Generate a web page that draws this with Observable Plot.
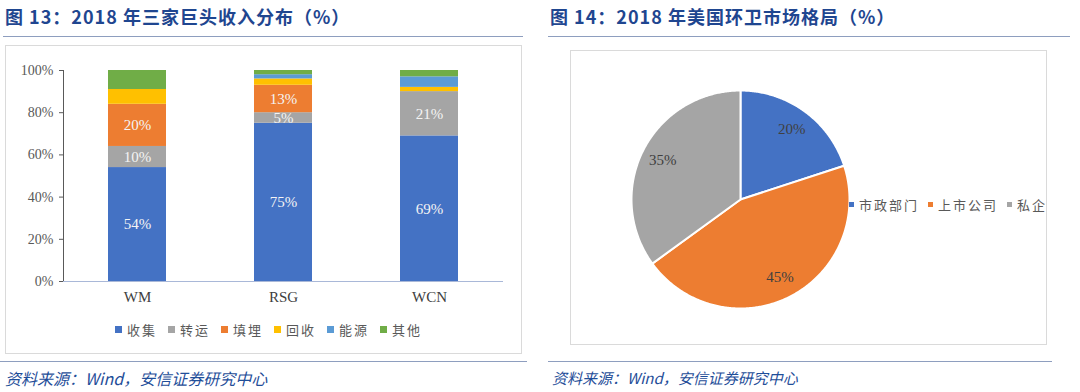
<!DOCTYPE html>
<html><head><meta charset="utf-8">
<script src="https://cdn.jsdelivr.net/npm/d3@7"></script>
<script src="https://cdn.jsdelivr.net/npm/@observablehq/plot@0.6"></script>
<style>
body{margin:0;background:#fff;width:1080px;height:392px;position:relative;overflow:hidden;font-family:"Noto Sans CJK SC",sans-serif;}
.abs{position:absolute;}
.title{font-size:18px;font-weight:bold;color:#1F4690;white-space:nowrap;letter-spacing:1px;}
.rule{height:0;border-top:1.5px solid #8E9EBF;}
.box{border:1px solid #DADADA;box-sizing:border-box;}
.src{font-size:15px;font-style:italic;color:#1F4E99;white-space:nowrap;}
.legend{font-size:13px;color:#595959;white-space:nowrap;display:flex;align-items:center;letter-spacing:2px;}
.legend .sw{display:inline-block;width:7px;height:7px;margin-right:5px;}
.legend .it{display:flex;align-items:center;margin-right:11px;}
</style></head>
<body>
<div class="abs title" style="left:5px;top:3px;">图 13：2018 年三家巨头收入分布（%）</div>
<div class="abs rule" style="left:3px;top:36px;width:520px;"></div>
<div class="abs box" style="left:5px;top:45px;width:517px;height:309px;"></div>
<div id="bar" class="abs" style="left:5px;top:45px;"></div>
<div id="barLegend" class="abs legend" style="left:115px;top:320px;"></div>
<div class="abs rule" style="left:0px;top:361px;width:527px;"></div>
<div class="abs src" style="left:5px;top:366px;font-size:16px;">资料来源：Wind，安信证券研究中心</div>

<div class="abs title" style="left:550px;top:3px;">图 14：2018 年美国环卫市场格局（%）</div>
<div class="abs rule" style="left:548px;top:36px;width:522px;"></div>
<div class="abs box" style="left:570px;top:50px;width:477px;height:295px;"></div>
<div id="pie" class="abs" style="left:570px;top:50px;"></div>
<div id="pieLegend" class="abs legend" style="left:849px;top:195px;"></div>
<div class="abs rule" style="left:548px;top:361px;width:504px;"></div>
<div class="abs src" style="left:552px;top:367px;">资料来源：Wind，安信证券研究中心</div>

<script>
// ---- data: stacked bar ----
const companies = ["WM", "RSG", "WCN"];
const series = ["收集", "转运", "填埋", "回收", "能源", "其他"];
const seriesColors = ["#4472C4", "#A5A5A5", "#ED7D31", "#FFC000", "#5B9BD5", "#70AD47"];
const valuesWM = [54, 10, 20, 7, 0, 9];
const valuesRSG = [75, 5, 13, 3, 2, 2];
const valuesWCN = [69, 21, 0, 2, 5, 3];
const labeledSeries = ["收集", "转运", "填埋"];
const yTicks = [0, 20, 40, 60, 80, 100];

// ---- data: pie ----
const pieNames = ["市政部门", "上市公司", "私企"];
const pieValues = [20, 45, 35];
const pieColors = ["#4472C4", "#ED7D31", "#A5A5A5"];

const valueRows = [valuesWM, valuesRSG, valuesWCN];
const barData = [];
companies.forEach((c, i) => series.forEach((s, j) => barData.push({company: c, series: s, value: valueRows[i][j]})));

const serif = "'Liberation Serif', 'DejaVu Serif', serif";

const bar = Plot.plot({
  width: 516, height: 270,
  marginLeft: 58, marginRight: 18, marginTop: 25, marginBottom: 34,
  style: {fontFamily: serif, fontSize: "14px", color: "#595959", background: "transparent"},
  x: {domain: companies, paddingInner: 0.6, paddingOuter: 0.3, label: null, tickSize: 0, tickPadding: 10},
  y: {domain: [0, 100], ticks: yTicks, tickFormat: d => d + "%", label: null, tickSize: 4, tickPadding: 6, line: true},
  color: {domain: series, range: seriesColors},
  marks: [
    Plot.barY(barData, {x: "company", y: "value", fill: "series", order: series}),
    Plot.text(barData, Plot.stackY({x: "company", y: "value", z: "series", order: series,
      text: d => (labeledSeries.includes(d.series) && d.value > 0) ? d.value + "%" : "",
      fill: "#F4F4F4", fontFamily: serif, fontSize: 15})),
    Plot.ruleY([0], {stroke: "#A9B8D8", strokeWidth: 1.2})
  ]
});
bar.querySelectorAll('[aria-label="y-axis"] path, [aria-label="y-axis"] line').forEach(e => e.setAttribute("stroke", "#A9B8D8"));
bar.querySelectorAll('[aria-label="x-axis"] text, [aria-label="x-axis tick label"] text').forEach(e => { e.setAttribute("font-size", "15"); e.setAttribute("fill", "#404040"); });
document.getElementById("bar").append(bar);

const bl = document.getElementById("barLegend");
series.forEach((s, i) => {
  const it = document.createElement("span"); it.className = "it";
  it.innerHTML = `<span class="sw" style="background:${seriesColors[i]}"></span>${s}`;
  bl.append(it);
});

// pie geometry built from values (angles from 12 o'clock, clockwise)
const total = d3.sum(pieValues);
const pieRows = [];
const pieLabels = [];
let acc = 0;
pieNames.forEach((n, i) => {
  const a0 = acc / total * 2 * Math.PI;
  acc += pieValues[i];
  const a1 = acc / total * 2 * Math.PI;
  pieRows.push({name: n, x: 0, y: 0});
  const steps = Math.max(2, Math.ceil((a1 - a0) / 0.01));
  for (let k = 0; k <= steps; k++) {
    const a = a0 + (a1 - a0) * k / steps;
    pieRows.push({name: n, x: Math.sin(a), y: Math.cos(a)});
  }
  pieRows.push({name: n, x: 0, y: 0});
  const am = (a0 + a1) / 2;
  pieLabels.push({name: n, x: 0.8 * Math.sin(am), y: 0.8 * Math.cos(am), text: pieValues[i] + "%"});
});

const pie = Plot.plot({
  width: 476, height: 294, margin: 0,
  style: {fontFamily: serif, fontSize: "15px", background: "transparent"},
  x: {domain: [-1, 1], range: [61, 279], axis: null},
  y: {domain: [-1, 1], range: [258, 40], axis: null},
  color: {domain: pieNames, range: pieColors},
  marks: [
    Plot.line(pieRows, {x: "x", y: "y", z: "name", fill: "name", stroke: "white", strokeWidth: 2, curve: "linear", strokeLinejoin: "round"}),
    Plot.text(pieLabels, {x: "x", y: "y", text: "text", fill: "#404040", fontFamily: serif, fontSize: 15})
  ]
});
document.getElementById("pie").append(pie);

const pl = document.getElementById("pieLegend");
pieNames.forEach((s, i) => {
  const it = document.createElement("span"); it.className = "it"; it.style.marginRight = "9px";
  it.innerHTML = `<span class="sw" style="background:${pieColors[i]};width:5px;height:5px;"></span>${s}`;
  pl.append(it);
});
</script>
</body></html>
